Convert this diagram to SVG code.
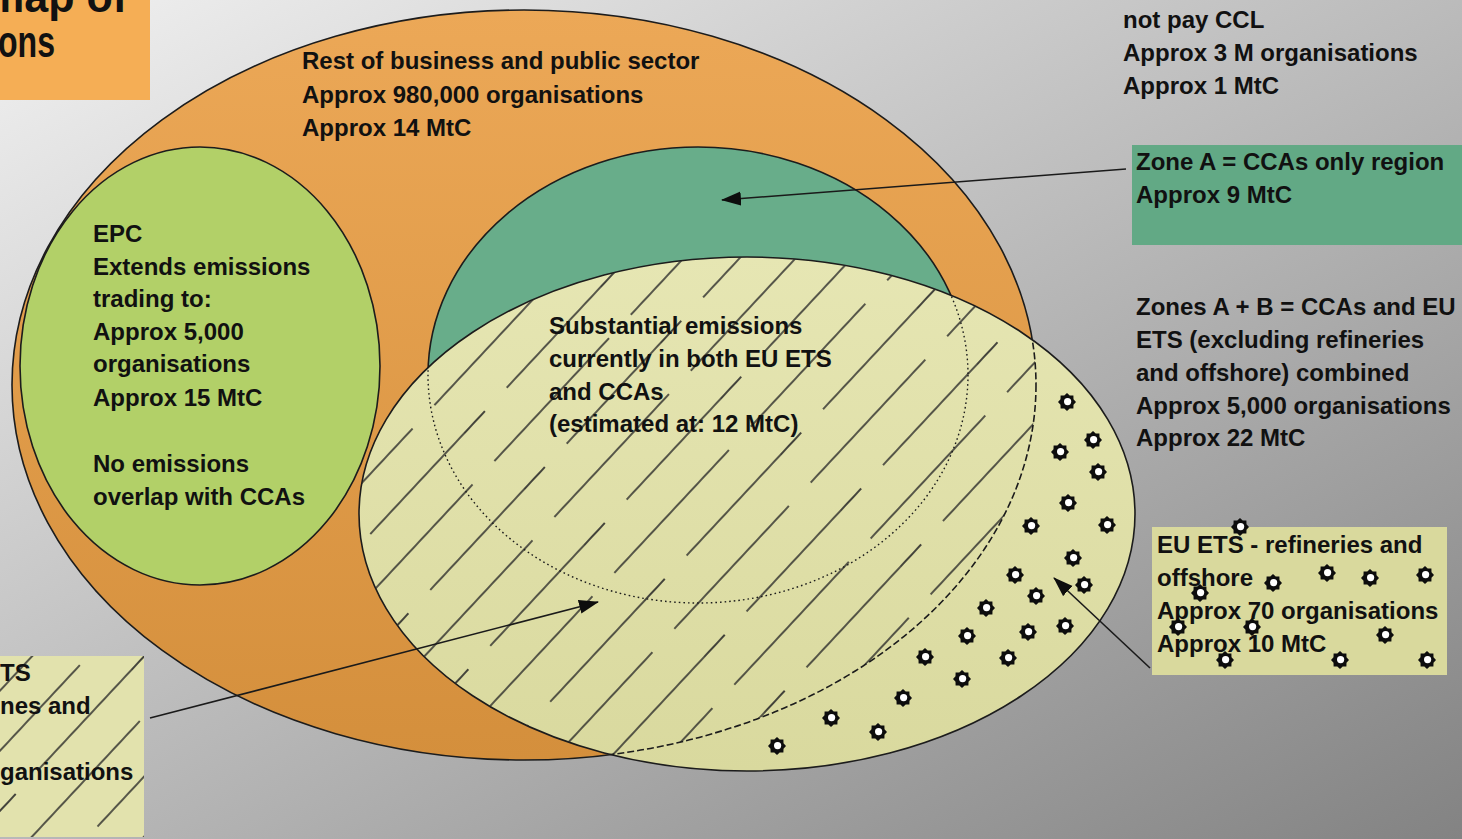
<svg xmlns="http://www.w3.org/2000/svg" width="1462" height="839" viewBox="0 0 1462 839">
<defs>
<style>
.t{font-family:"Liberation Sans",Arial,sans-serif;font-weight:bold;font-size:24px;fill:#111}
.ttl{font-family:"Liberation Sans",Arial,sans-serif;font-weight:bold;font-size:44px;fill:#111}
.edge{stroke:#1c1c1c;stroke-width:1.6}
.con{stroke:#1a1a1a;stroke-width:1.6;fill:none}
.hl{stroke:#262626;stroke-width:1.7}
</style>
<linearGradient id="bg" gradientUnits="userSpaceOnUse" x1="0" y1="0" x2="792" y2="1432">
<stop offset="0" stop-color="#f1f1f1"/>
<stop offset="1" stop-color="#747474"/>
</linearGradient>
<linearGradient id="og" x1="0" y1="0" x2="0" y2="1">
<stop offset="0" stop-color="#eca857"/>
<stop offset="1" stop-color="#d48f3c"/>
</linearGradient>
<linearGradient id="yg" x1="0" y1="0" x2="0" y2="1">
<stop offset="0" stop-color="#e6e6b3"/>
<stop offset="1" stop-color="#d9d99e"/>
</linearGradient>
<pattern id="hatch" patternUnits="userSpaceOnUse" width="200" height="82" patternTransform="rotate(-47)">
<line class="hl" x1="0" y1="20" x2="168" y2="20"/>
<line class="hl" x1="62" y1="61" x2="200" y2="61"/>
<line class="hl" x1="0" y1="61" x2="30" y2="61"/>
</pattern>
<clipPath id="clipY"><ellipse cx="747" cy="514" rx="388" ry="257"/></clipPath>
<clipPath id="clipO"><ellipse cx="524" cy="385" rx="512" ry="375"/></clipPath>
<symbol id="star" viewBox="-10 -10 20 20" width="20" height="20" overflow="visible">
<polygon points="9,0 6.5,2.7 6.4,6.4 2.7,6.5 0,9 -2.7,6.5 -6.4,6.4 -6.5,2.7 -9,0 -6.5,-2.7 -6.4,-6.4 -2.7,-6.5 0,-9 2.7,-6.5 6.4,-6.4 6.5,-2.7" fill="#0d0d0d"/>
<circle cx="0.6" cy="-0.4" r="3.6" fill="#ffffff"/>
</symbol>
<marker id="ah" markerUnits="userSpaceOnUse" markerWidth="20" markerHeight="16" refX="19" refY="7" orient="auto">
<path d="M0,0 L20,7 L0,14 Z" fill="#0d0d0d"/>
</marker>
</defs>

<rect x="0" y="0" width="1462" height="839" fill="url(#bg)"/>

<g id="node-rest">
<ellipse cx="524" cy="385" rx="512" ry="375" fill="url(#og)" class="edge"/>
</g>

<g id="node-epc">
<ellipse cx="200" cy="366" rx="180" ry="219" fill="#b2d068" class="edge"/>
<text class="t" x="93" y="242">EPC</text>
<text class="t" x="93" y="275">Extends emissions</text>
<text class="t" x="93" y="307">trading to:</text>
<text class="t" x="93" y="340">Approx 5,000</text>
<text class="t" x="93" y="372">organisations</text>
<text class="t" x="93" y="406">Approx 15 MtC</text>
<text class="t" x="93" y="472">No emissions</text>
<text class="t" x="93" y="505">overlap with CCAs</text>
</g>

<g id="node-cca">
<ellipse cx="698" cy="375" rx="270" ry="228" fill="#68ad8a" class="edge"/>
</g>

<g id="node-euets">
<ellipse cx="747" cy="514" rx="388" ry="257" fill="url(#yg)" class="edge"/>
<g clip-path="url(#clipY)">
<rect x="340" y="240" width="820" height="540" fill="url(#hatch)" clip-path="url(#clipO)"/>
<ellipse cx="524" cy="385" rx="512" ry="375" fill="none" stroke="#1c1c1c" stroke-width="1.6" stroke-dasharray="7 3"/>
<ellipse cx="698" cy="375" rx="270" ry="228" fill="none" stroke="#1c1c1c" stroke-width="1.4" stroke-dasharray="1.6 3"/>
</g>
<text class="t" x="549" y="334">Substantial emissions</text>
<text class="t" x="549" y="367">currently in both EU ETS</text>
<text class="t" x="549" y="400">and CCAs</text>
<text class="t" x="549" y="432">(estimated at: 12 MtC)</text>
<g id="stars-ellipse">
<use href="#star" x="1057" y="392"/>
<use href="#star" x="1083" y="430"/>
<use href="#star" x="1050" y="442"/>
<use href="#star" x="1088" y="462"/>
<use href="#star" x="1058" y="493"/>
<use href="#star" x="1097" y="515"/>
<use href="#star" x="1021" y="516"/>
<use href="#star" x="1063" y="548"/>
<use href="#star" x="1074" y="575"/>
<use href="#star" x="1005" y="565"/>
<use href="#star" x="1026" y="586"/>
<use href="#star" x="976" y="598"/>
<use href="#star" x="1055" y="616"/>
<use href="#star" x="957" y="626"/>
<use href="#star" x="1018" y="622"/>
<use href="#star" x="915" y="647"/>
<use href="#star" x="998" y="648"/>
<use href="#star" x="952" y="669"/>
<use href="#star" x="893" y="688"/>
<use href="#star" x="821" y="708"/>
<use href="#star" x="868" y="722"/>
<use href="#star" x="767" y="736"/>
</g>
</g>

<g id="node-rest-label">
<text class="t" x="302" y="69">Rest of business and public sector</text>
<text class="t" x="302" y="103">Approx 980,000 organisations</text>
<text class="t" x="302" y="136">Approx 14 MtC</text>
</g>

<g id="node-title">
<rect x="0" y="0" width="150" height="100" fill="#f5ae55"/>
<text class="ttl" x="-14" y="12" textLength="141" lengthAdjust="spacingAndGlyphs">map of</text>
<text class="ttl" x="-2" y="57" textLength="57" lengthAdjust="spacingAndGlyphs">ons</text>
</g>

<g id="node-nonccl">
<text class="t" x="1123" y="28">not pay CCL</text>
<text class="t" x="1123" y="61">Approx 3 M organisations</text>
<text class="t" x="1123" y="94">Approx 1 MtC</text>
</g>

<g id="node-zoneA">
<rect x="1132" y="145" width="330" height="100" fill="#62a985"/>
<text class="t" x="1136" y="170">Zone A = CCAs only region</text>
<text class="t" x="1136" y="203">Approx 9 MtC</text>
</g>

<g id="node-zonesAB">
<text class="t" x="1136" y="315">Zones A + B = CCAs and EU</text>
<text class="t" x="1136" y="348">ETS (excluding refineries</text>
<text class="t" x="1136" y="381">and offshore) combined</text>
<text class="t" x="1136" y="414">Approx 5,000 organisations</text>
<text class="t" x="1136" y="446">Approx 22 MtC</text>
</g>

<g id="node-refineries">
<rect x="1152" y="527" width="295" height="148" fill="#d9d99d"/>
<text class="t" x="1157" y="553">EU ETS - refineries and</text>
<text class="t" x="1157" y="586">offshore</text>
<text class="t" x="1157" y="619">Approx 70 organisations</text>
<text class="t" x="1157" y="652">Approx  10 MtC</text>
<use href="#star" x="1230" y="517"/>
<use href="#star" x="1317" y="563"/>
<use href="#star" x="1360" y="568"/>
<use href="#star" x="1415" y="565"/>
<use href="#star" x="1263" y="573"/>
<use href="#star" x="1190" y="583"/>
<use href="#star" x="1168" y="617"/>
<use href="#star" x="1242" y="617"/>
<use href="#star" x="1375" y="625"/>
<use href="#star" x="1215" y="650"/>
<use href="#star" x="1330" y="650"/>
<use href="#star" x="1417" y="650"/>
</g>

<g id="node-bottomleft">
<rect x="0" y="656" width="144" height="181" fill="#e2e2ad"/>
<rect x="0" y="656" width="144" height="181" fill="url(#hatch)"/>
<text class="t" x="0" y="681">TS</text>
<text class="t" x="0" y="714">nes and</text>
<text class="t" x="0" y="780">ganisations</text>
</g>

<g id="connectors">
<line class="con" x1="1126" y1="169" x2="722" y2="200" marker-end="url(#ah)"/>
<line class="con" x1="150" y1="718" x2="598" y2="602" marker-end="url(#ah)"/>
<line class="con" x1="1150" y1="668" x2="1054" y2="578" marker-end="url(#ah)"/>
</g>
</svg>
